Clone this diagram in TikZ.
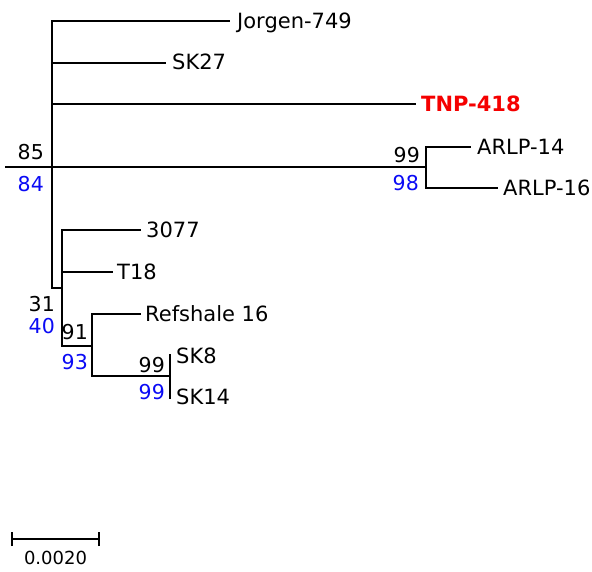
\documentclass[tikz,border=0pt]{standalone}
\usepackage{fontspec}
\setmainfont{DejaVu Sans}
\definecolor{bsblue}{RGB}{10,10,245}
\definecolor{hired}{RGB}{245,0,0}
\begin{document}
\begin{tikzpicture}[x=1pt,y=-1pt,
  br/.style={line width=2pt,line cap=rect,black},
  leaf/.style={anchor=base west,inner sep=0pt,font=\fontsize{21}{25}\selectfont},
  bsk/.style={anchor=base east,inner sep=0pt,font=\fontsize{20.5}{24}\selectfont,text=black},
  bsb/.style={anchor=base east,inner sep=0pt,font=\fontsize{20.5}{24}\selectfont,text=bsblue}]
\useasboundingbox (0,0) rectangle (592,571);
% internal coordinates
\coordinate (rootL) at (6,167);
\coordinate (n0) at (52,167);
\coordinate (n0t) at (52,21);
\coordinate (n0b) at (52,288);
\coordinate (a) at (426,167);
\coordinate (at) at (426,147);
\coordinate (ab) at (426,188);
\coordinate (b) at (62,288);
\coordinate (bt) at (62,230);
\coordinate (bb) at (62,346);
\coordinate (c) at (92,346);
\coordinate (ct) at (92,314);
\coordinate (cb) at (92,376);
\coordinate (d) at (170,376);
\coordinate (dt) at (170,355);
\coordinate (db) at (170,398);
\coordinate (s27v) at (52,62.5);
\coordinate (tnpv) at (52,104);
\coordinate (t18v) at (62,272);
% tips
\coordinate (tJ) at (229,21);
\coordinate (tS27) at (165,62.5);
\coordinate (tT) at (415,104);
\coordinate (tA14) at (470,147);
\coordinate (tA16) at (497,188);
\coordinate (t3077) at (140,230);
\coordinate (tT18) at (112,272);
\coordinate (tR) at (140,314);
% branches
\draw[br] (rootL) -- (n0) -- (a);
\draw[br] (n0t) -- (n0b) -- (b);
\draw[br] (n0t) -- (tJ);
\draw[br] (s27v) -- (tS27);
\draw[br] (tnpv) -- (tT);
\draw[br] (at) -- (ab);
\draw[br] (at) -- (tA14);
\draw[br] (ab) -- (tA16);
\draw[br] (bt) -- (bb) -- (c);
\draw[br] (bt) -- (t3077);
\draw[br] (t18v) -- (tT18);
\draw[br] (ct) -- (cb) -- (d);
\draw[br] (ct) -- (tR);
\draw[br] (dt) -- (db);
% leaf labels
\node[leaf] (lJ) at (237,28) {Jorgen-749};
\node[leaf] (lS27) at (172,69) {SK27};
\node[leaf,text=hired,font=\fontsize{21}{25}\selectfont\bfseries] (lT) at (421,111) {TNP-418};
\node[leaf] (lA14) at (477,154) {ARLP-14};
\node[leaf] (lA16) at (503,195) {ARLP-16};
\node[leaf] (l3077) at (146,237) {3077};
\node[leaf] (lT18) at (117,279) {T18};
\node[leaf] (lR) at (145,321) {Refshale 16};
\node[leaf] (lSK8) at (176,363) {SK8};
\node[leaf] (lSK14) at (176,404) {SK14};
% bootstrap values
\node[bsk] (b85) at (44,159) {85};
\node[bsb] (b84) at (44,191) {84};
\node[bsk] (b99a) at (420,162) {99};
\node[bsb] (b98) at (419,190) {98};
\node[bsk] (b31) at (55,311) {31};
\node[bsb] (b40) at (55,333) {40};
\node[bsk] (b91) at (88,339) {91};
\node[bsb] (b93) at (88,369) {93};
\node[bsk] (b99b) at (165,372) {99};
\node[bsb] (b99c) at (165,399) {99};
% scale bar
\coordinate (sL) at (12,539);
\coordinate (sR) at (99,539);
\draw[line width=1.7pt] (sL) -- (sR);
\draw[line width=1.7pt] ([yshift=-7pt]sL) -- ([yshift=7pt]sL);
\draw[line width=1.7pt] ([yshift=-7pt]sR) -- ([yshift=7pt]sR);
\node[anchor=base,inner sep=0pt,font=\fontsize{18}{21}\selectfont] (sbl) at (55.5,564) {0.0020};
\end{tikzpicture}
\end{document}
